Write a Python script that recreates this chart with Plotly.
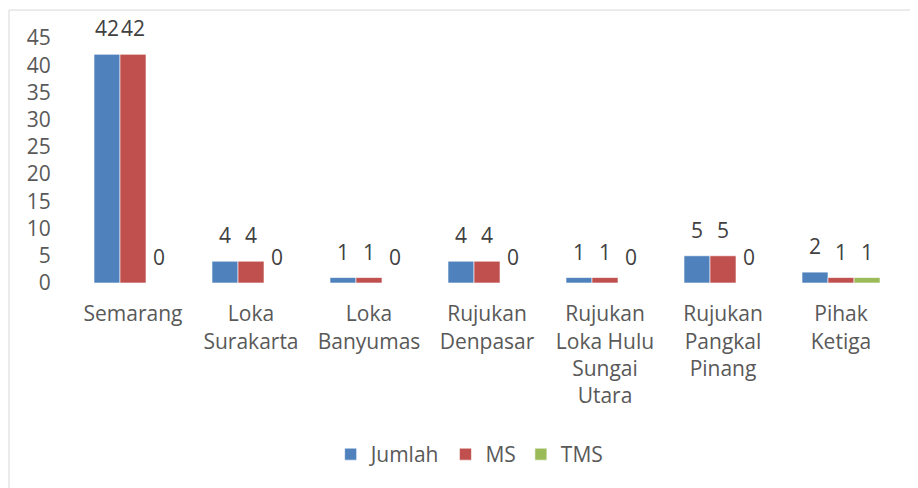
import plotly.graph_objects as go

categories = ["Semarang", "Loka<br>Surakarta", "Loka<br>Banyumas", "Rujukan<br>Denpasar",
              "Rujukan<br>Loka Hulu<br>Sungai<br>Utara", "Rujukan<br>Pangkal<br>Pinang", "Pihak<br>Ketiga"]
jumlah = [42, 4, 1, 4, 1, 5, 2]
ms = [42, 4, 1, 4, 1, 5, 1]
tms = [0, 0, 0, 0, 0, 0, 1]
y_ticks = [0, 5, 10, 15, 20, 25, 30, 35, 40, 45]

series = [("Jumlah", jumlah, "#4F81BD"), ("MS", ms, "#C0504D"), ("TMS", tms, "#9BBB59")]

FONT = "Open Sans"
TXT = "#595959"
FS = 21

fig = go.Figure()
for name, vals, col in series:
    fig.add_trace(go.Bar(
        x=categories, y=vals, name=name, marker=dict(color=col, line=dict(color="rgba(255,255,255,0.6)", width=1)),
    ))

annotations = []
shifts = [-26, 0, 26]
for (name, vals, col), sh in zip(series, shifts):
    for c, v in zip(categories, vals):
        annotations.append(dict(x=c, y=v, xref="x", yref="y", text=str(v), showarrow=False,
                                xshift=sh, yshift=10, yanchor="bottom",
                                font=dict(family=FONT, size=FS, color="#404040")))

fig.update_layout(
    width=918, height=488,
    margin=dict(l=66, r=26, t=30, b=213),
    paper_bgcolor="white", plot_bgcolor="white",
    barmode="group", bargap=0.339, bargroupgap=0,
    font=dict(family=FONT, size=FS, color=TXT),
    showlegend=True,
    legend=dict(orientation="h", x=0.479, xanchor="center", y=-0.70, yanchor="middle",
                font=dict(family=FONT, size=FS, color=TXT), itemwidth=30),
    annotations=annotations,
    shapes=[dict(type="rect", xref="paper", yref="paper", x0=-0.0787, x1=1.06, y0=-0.95, y1=1.114,
                 line=dict(color="#D9D9D9", width=1), fillcolor="rgba(0,0,0,0)", layer="below")],
)
fig.update_xaxes(showgrid=False, showline=False, zeroline=False, ticks="outside", ticklen=12,
                 tickcolor="rgba(0,0,0,0)", tickfont=dict(family=FONT, size=FS, color=TXT), tickangle=0)
fig.update_yaxes(range=[0, 45], tickvals=y_ticks, showgrid=False, showline=False, zeroline=False,
                 ticks="outside", ticklen=18, tickcolor="rgba(0,0,0,0)",
                 tickfont=dict(family=FONT, size=FS, color=TXT))

fig.write_html("out.html")
